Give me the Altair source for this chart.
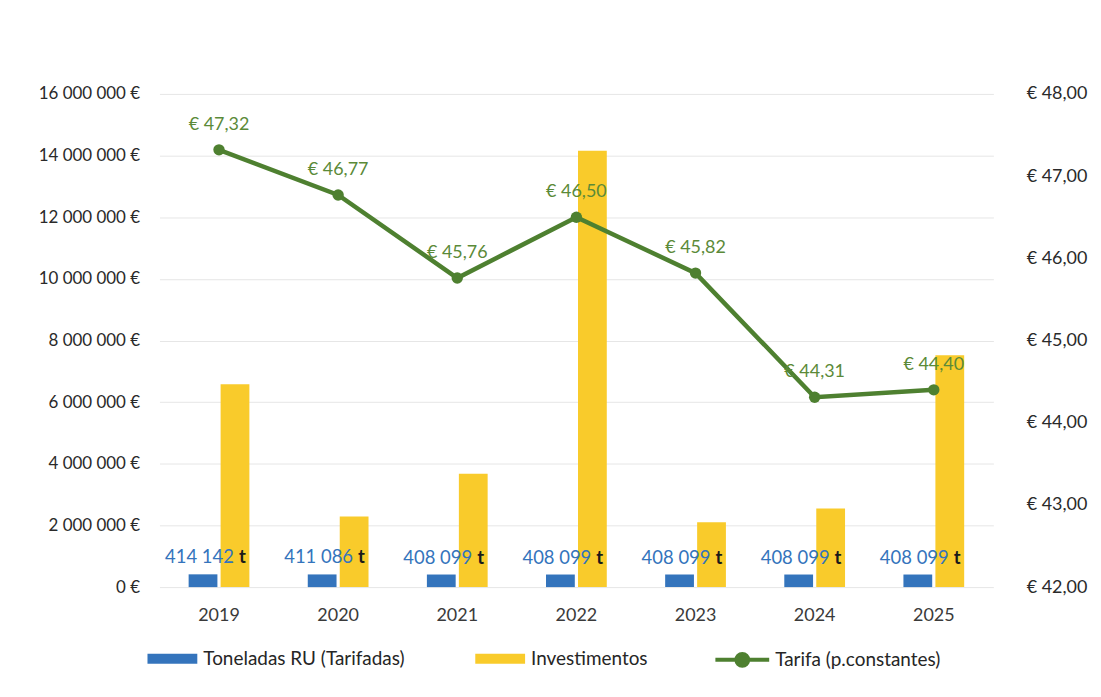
import altair as alt
import pandas as pd

years = ["2019", "2020", "2021", "2022", "2023", "2024", "2025"]
toneladas = [414142, 411086, 408099, 408099, 408099, 408099, 408099]
investimentos = [6580000, 2290000, 3680000, 14160000, 2100000, 2550000, 7520000]
tarifa = [47.32, 46.77, 45.76, 46.50, 45.82, 44.31, 44.40]

serie_ton = "Toneladas RU (Tarifadas)"
serie_inv = "Investimentos"
serie_tar = "Tarifa (p.constantes)"

left_ticks = [0, 2000000, 4000000, 6000000, 8000000, 10000000, 12000000, 14000000, 16000000]
right_ticks = [42, 43, 44, 45, 46, 47, 48]

FONT = "Lato"
BLUE = "#3474BC"
YELLOW = "#F9CB2B"
GREEN = "#4E8030"
GREEN_TXT = "#5B8A38"

bars_df = pd.DataFrame(
    {
        "Ano": years * 2,
        "Serie": [serie_ton] * len(years) + [serie_inv] * len(years),
        "Valor": toneladas + investimentos,
    }
)
ton_df = pd.DataFrame({"Ano": years, "Serie": [serie_ton] * len(years), "Valor": toneladas})
tar_df = pd.DataFrame({"Ano": years, "Tarifa": tarifa, "Serie": [serie_tar] * len(years)})

x_enc = alt.X(
    "Ano:N",
    sort=years,
    scale=alt.Scale(paddingInner=0.49, paddingOuter=0.245),
    axis=alt.Axis(
        title=None, labelAngle=0, labelFontSize=18, labelColor="#3a3a3a",
        labelPadding=20, ticks=False, domain=False, labelFont=FONT,
    ),
)

left_axis = alt.Axis(
    title=None, values=left_ticks, ticks=False, domain=False,
    labelFontSize=17, labelColor="#2a2a2a", labelPadding=20, labelFont=FONT,
    gridColor="#e6e6e6", gridWidth=1,
    labelExpr="replace(format(datum.value, ','), regexp(',', 'g'), ' ') + ' €'",
)
left_scale = alt.Scale(domain=[0, 16000000], nice=False)

right_axis = alt.Axis(
    title=None, orient="right", values=right_ticks, ticks=False, domain=False,
    grid=False, labelFontSize=18, labelColor="#2a2a2a", labelPadding=33,
    labelFont=FONT,
    labelExpr="'€ ' + replace(format(datum.value, '.2f'), '.', ',')",
)
right_scale = alt.Scale(domain=[42, 48], nice=False)

offset_enc = alt.XOffset("Serie:N", sort=[serie_ton, serie_inv],
                         scale=alt.Scale(paddingInner=0.1))

bars = alt.Chart(bars_df).mark_bar().encode(
    x=x_enc,
    xOffset=offset_enc,
    y=alt.Y("Valor:Q", scale=left_scale, axis=left_axis),
    fill=alt.Fill(
        "Serie:N",
        scale=alt.Scale(domain=[serie_ton, serie_inv], range=[BLUE, YELLOW]),
        sort=[serie_ton, serie_inv],
        legend=alt.Legend(
            title=None, orient="none", legendX=-12, legendY=542,
            direction="horizontal", symbolType="M-1,-0.2H1V0.2H-1Z",
            symbolSize=2500, symbolStrokeWidth=0, labelFontSize=19,
            labelFont=FONT, labelColor="#262626", columnPadding=70,
            labelOffset=6, labelLimit=400,
        ),
    ),
)

ton_num = alt.Chart(ton_df).transform_calculate(
    lbl="replace(format(datum.Valor, ','), regexp(',', 'g'), ' ')"
).mark_text(
    align="right", baseline="bottom", dx=31, dy=-7, fontSize=18.5, font=FONT,
    color=BLUE,
).encode(
    x=x_enc,
    xOffset=offset_enc,
    y=alt.Y("Valor:Q", scale=left_scale, axis=left_axis),
    text="lbl:N",
)

ton_t = alt.Chart(ton_df).transform_calculate(lbl="'t'").mark_text(
    align="left", baseline="bottom", dx=36, dy=-7, fontSize=18.5, font=FONT,
    color="#1a1a1a", fontWeight="bold",
).encode(
    x=x_enc,
    xOffset=offset_enc,
    y=alt.Y("Valor:Q", scale=left_scale, axis=left_axis),
    text="lbl:N",
)

left = alt.layer(bars, ton_num, ton_t)

line = alt.Chart(tar_df).mark_line(strokeWidth=4.5).encode(
    x=x_enc,
    y=alt.Y("Tarifa:Q", scale=right_scale, axis=right_axis),
    stroke=alt.Stroke(
        "Serie:N",
        scale=alt.Scale(domain=[serie_tar], range=[GREEN]),
        legend=alt.Legend(
            title=None, orient="none", legendX=556, legendY=539,
            symbolType="M-1,0H1M0.22,0A0.22,0.22,0,1,1,-0.22,0A0.22,0.22,0,1,1,0.22,0Z",
            symbolSize=2916, symbolStrokeWidth=4, symbolFillColor=GREEN,
            labelFontSize=19, labelFont=FONT, labelColor="#262626",
            labelOffset=4, labelLimit=400,
        ),
    ),
)

points = alt.Chart(tar_df).mark_circle(size=130, color=GREEN, opacity=1).encode(
    x=x_enc,
    y=alt.Y("Tarifa:Q", scale=right_scale, axis=right_axis),
)

tar_lbl = alt.Chart(tar_df).transform_calculate(
    lbl="'€ ' + replace(format(datum.Tarifa, '.2f'), '.', ',')"
).mark_text(
    baseline="bottom", dy=-16, fontSize=18, font=FONT, color=GREEN_TXT,
).encode(
    x=x_enc,
    y=alt.Y("Tarifa:Q", scale=right_scale, axis=right_axis),
    text="lbl:N",
)

right = alt.layer(line, points, tar_lbl)

chart = alt.layer(left, right).resolve_scale(y="independent").properties(
    width=837,
    height=495,
    autosize=alt.AutoSizeParams(type="none"),
    padding={"left": 152, "top": 85, "right": 100, "bottom": 90},
    background="white",
).configure_view(stroke=None)

chart.save("out.html", embed_options={"renderer": "svg", "actions": False})
